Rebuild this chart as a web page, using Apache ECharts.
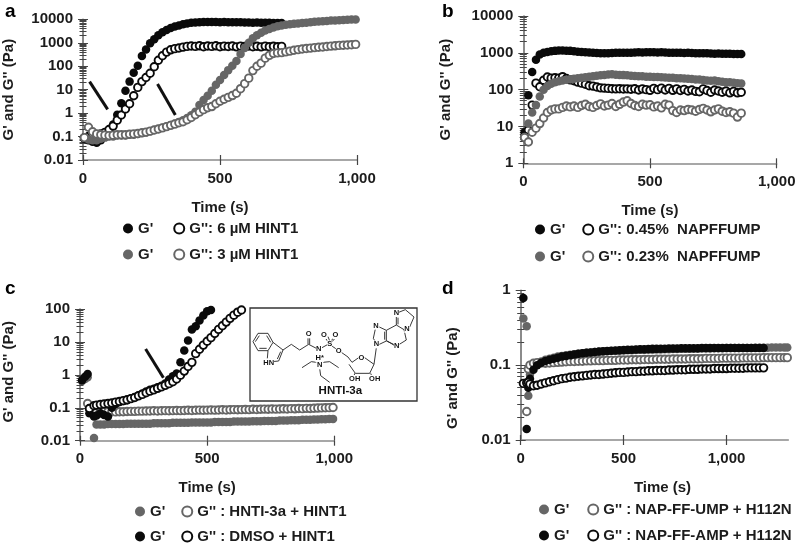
<!DOCTYPE html>
<html><head><meta charset="utf-8">
<script src="https://cdn.jsdelivr.net/npm/echarts@6/dist/echarts.min.js"></script>
<style>html,body{margin:0;padding:0;background:#fff}#c{width:800px;height:550px;filter:blur(.35px)}</style>
</head><body><div id="c"></div>
<script>
// ---------- panel a ----------
const timeA=[5,20,35,50,65,80,95,110,125,140,155,170,185,200,215,230,245,260,275,290,305,320,335,350,365,380,395,410,425,440,455,470,485,500,515,530,545,560,575,590,605,620,635,650,665,680,695,710,725,740,755,770,785,800,815,830,845,860,875,890,905,920,935,950,965,980,995];
const a6Gp=[.08,.07,.06,.055,.07,.11,.19,.33,.85,2.6,9,22,52,105,270,520,950,1420,2100,2800,3500,4250,4900,5500,6100,6700,7100,7300,7500,7600,7600,7700,7600,7500,7600,7500,7400,7500,7400,7300,7300,7200,7300,7200,7100,7100,7000,7000,6900];
const a6Gpp=[.09,.1,.11,.12,.13,.15,.2,.28,.5,.83,1.5,2.5,5.5,12.5,22,33,50,95,180,280,400,500,560,600,650,700,730,700,740,680,730,700,740,680,720,690,730,670,720,690,730,680,710,670,720,680,710,680,700];
const a3Gp=[.09,.075,.07,.07,.08,.09,.1,.1,.11,.11,.11,.12,.12,.13,.14,.15,.17,.19,.21,.24,.27,.31,.36,.42,.5,.62,.8,1.15,2.2,3.6,5.5,9,16,26,42,68,105,165,330,600,1000,1550,2100,2700,3300,3900,4500,5000,5400,5800,6100,6400,6700,6900,7200,7500,7800,8100,8300,8500,8800,8900,9100,9300,9500,9700,9900];
const a3Gpp=[.09,.25,.16,.13,.12,.115,.11,.115,.12,.12,.12,.125,.13,.135,.145,.155,.17,.19,.21,.235,.265,.3,.34,.39,.43,.52,.65,.85,1.1,1.4,1.7,1.9,2.5,3.2,3.9,4.7,5.6,7,11,18,31,65,100,135,220,290,350,370,380,410,440,480,510,540,570,590,620,640,660,690,720,740,770,780,800,820,850];
const ticksA=[0.01,0.1,1,10,100,1000,10000];
// ---------- panel b ----------
const timeB=[5,20,35,50,65,80,95,110,125,140,155,170,185,200,215,230,245,260,275,290,305,320,335,350,365,380,395,410,425,440,455,470,485,500,515,530,545,560,575,590,605,620,635,650,665,680,695,710,725,740,755,770,785,800,815,830,845,860];
const b45Gp=[7,70,300,650,900,1000,1060,1110,1130,1150,1160,1140,1130,1100,1070,1060,1040,1020,1000,990,970,970,980,990,1000,1000,1010,1000,1010,1020,1030,1020,1040,1040,1030,1020,1030,1020,1010,1010,1000,1000,990,1000,990,980,970,980,970,960,950,960,950,940,940,930,930,930];
const b45Gpp=[5,8,38,150,120,180,220,205,210,205,225,200,185,175,160,150,140,128,125,118,112,110,108,106,105,106,104,105,103,106,98,105,100,96,108,100,110,98,108,96,105,95,102,92,98,90,88,105,95,85,98,92,85,92,82,90,82,85];
const b23Gp=[5,12,24,38,65,100,125,145,160,170,178,186,192,198,205,212,218,225,230,238,245,250,258,262,255,250,248,245,238,235,232,230,225,225,222,220,218,215,212,210,205,205,200,198,195,190,188,182,178,175,178,170,165,160,158,155,150,148];
const b23Gpp=[5,3.8,7,9,12,17,24,28,30,30,33,36,34,36,33,37,40,35,33,37,41,36,38,42,35,40,46,50,42,37,35,40,38,39,34,36,32,40,38,27,24,28,27,29,28,26,29,31,28,25,28,30,26,24,25,23,18,23];
const ticksB=[1,10,100,1000,10000];
// ---------- panel c ----------
const timeC=[8,20,30,37,55,65,80,95,110,125,140,155,170,185,200,215,230,245,260,275,290,305,320,335,350,365,380,395,410,425,440,455,470,485,500,515,530,545,560,575,590,605,620,635,650,665,680,695,710,725,740,755,770,785,800,815,830,845,860,875,890,905,920,935,950,965,980,995];
const cHntiGp=[.65,.75,.85,null,.012,.031,.031,.031,.032,.032,.032,.032,.032,.033,.033,.033,.033,.033,.033,.033,.034,.034,.034,.034,.034,.035,.035,.035,.035,.035,.036,.036,.036,.036,.036,.036,.037,.037,.037,.037,.037,.038,.038,.038,.038,.038,.039,.039,.039,.04,.04,.04,.04,.041,.041,.041,.042,.042,.042,.043,.043,.043,.044,.044,.045,.045,.046,.046];
const cHntiGpp=[null,null,.135,.095,.085,.08,.078,.077,.076,.076,.075,.076,.076,.077,.078,.078,.079,.079,.08,.08,.081,.08,.081,.082,.081,.082,.083,.082,.083,.084,.083,.084,.085,.084,.085,.086,.085,.086,.087,.086,.087,.088,.087,.088,.089,.088,.09,.089,.09,.091,.09,.092,.091,.092,.093,.092,.094,.093,.095,.094,.096,.095,.097,.098,.099,.1,.101,.102];
const cDmsoGp=[.69,.87,1.06,.068,.054,.058,.068,.06,.054,.1,.13,.15,.16,.17,.19,.21,.24,.27,.31,.35,.38,.42,.47,.55,.72,.9,1.1,2.4,5.5,11,24,30,45,63,85,93];
const cDmsoGpp=[null,null,null,.095,.115,.12,.126,.13,.135,.14,.148,.155,.165,.175,.19,.205,.23,.255,.285,.32,.35,.39,.43,.48,.54,.62,.75,.98,1.3,1.8,2.4,4.4,6,8,10.5,13.5,18,24,31,40,52,65,80,93];
const ticksC=[0.01,0.1,1,10,100];
// ---------- panel d ----------
const timeD=[13,29,37,45,62,80,100,120,140,160,180,200,220,240,260,280,300,320,340,360,380,400,420,440,460,480,500,520,540,560,580,600,620,640,660,680,700,720,740,760,780,800,820,840,860,880,900,920,940,960,980,1000,1020,1040,1060,1080,1100,1120,1140,1160,1180,1200,1220,1240,1260,1280,1295];
const dUmpGp=[.42,.33,.039,.075,.095,.105,.112,.118,.122,.126,.13,.133,.136,.138,.14,.142,.144,.146,.148,.15,.151,.152,.153,.154,.155,.156,.157,.158,.158,.159,.16,.16,.161,.161,.162,.162,.163,.163,.164,.164,.165,.165,.165,.166,.166,.167,.167,.167,.168,.168,.168,.169,.169,.169,.17,.17,.17,.17,.171,.171,.171,.171,.172,.172,.172,.172,.172];
const dUmpGpp=[null,.024,.089,.1,.106,.108,.107,.106,.107,.108,.109,.11,.111,.112,.112,.113,.113,.114,.114,.115,.115,.115,.116,.116,.116,.117,.117,.117,.118,.118,.118,.119,.119,.119,.12,.12,.12,.12,.121,.121,.121,.121,.122,.122,.122,.122,.123,.123,.123,.123,.124,.124,.124,.124,.124,.125,.125,.125,.125,.125,.126,.126,.126,.126,.126,.126,.126];
const dAmpGp=[.79,.014,.05,.066,.087,.1,.108,.114,.118,.122,.126,.13,.133,.136,.139,.142,.144,.146,.148,.15,.152,.153,.154,.156,.157,.158,.159,.16,.161,.162,.163,.163,.164,.165,.165,.166,.166,.167,.167,.167,.168,.168,.168,.168,.168,.169,.169,.169,.169,.169,.169,.169,.17,.17,.17,.17,.17,.17,.17,.17,.17];
const dAmpGpp=[.057,.058,.059,.056,.053,.054,.056,.058,.06,.062,.064,.066,.067,.069,.07,.071,.072,.073,.074,.075,.075,.076,.077,.078,.079,.08,.08,.081,.082,.082,.083,.083,.084,.084,.085,.085,.085,.086,.086,.087,.087,.087,.088,.088,.088,.089,.089,.089,.09,.09,.09,.09,.091,.091,.091,.091,.092,.092,.092,.092,.092];
const ticksD=[0.01,0.1,1];

const xTicks=[0,500,1000];
const xTicksD=[0,500,1000];
const arrowsA=[[[24,22],[90,1.45]],[[272,17.4],[337,0.83]]];
const arrowsC=[[[258,6.1],[328,0.82]]];
const yTitle="G' and G'' (Pa)", xTitle="Time (s)";

const BLACK='#0a0a0a', GRAY='#666666', TXT='#1c1c1c';
const FONT='"Liberation Sans",Arial,sans-serif';

const panels=[
 {letter:'a',lx:5,ly:2,grid:{left:82.7,top:19.3,width:274.3,height:140.7},ymin:.01,ymax:10000,ticks:ticksA,xmax:1000,xt:xTicks,
  nameGapY:67,legendLeft:123,rows:[230,256],gap:20,
  xNameOffset:0,yNameOffset:0,
  arrows:arrowsA,
  s:[[`G' 6`,a6Gp,timeA,BLACK,1],[`G'': 6 µM HINT1`,a6Gpp,timeA,BLACK,0],[`G' 3`,a3Gp,timeA,GRAY,1],[`G'': 3 µM HINT1`,a3Gpp,timeA,GRAY,0]]},
 {letter:'b',lx:442,ly:2,grid:{left:523.3,top:16,width:253.4,height:147.3},ymin:1,ymax:10000,ticks:ticksB,xmax:1000,xt:xTicks,
  nameGapY:70,legendLeft:535,rows:[231,258],gap:17,
  xNameOffset:0,yNameOffset:0,
  s:[[`G' .45`,b45Gp,timeB,BLACK,1],[`G'': 0.45%  NAPFFUMP`,b45Gpp,timeB,BLACK,0],[`G' .23`,b23Gp,timeB,GRAY,1],[`G'': 0.23%  NAPFFUMP`,b23Gpp,timeB,GRAY,0]]},
 {letter:'c',lx:5,ly:279,grid:{left:80,top:309,width:254.3,height:131.7},ymin:.01,ymax:100,ticks:ticksC,xmax:1000,xt:xTicks,
  nameGapY:64,legendLeft:135,rows:[513,538],gap:16,
  xNameOffset:0,yNameOffset:-3,
  arrows:arrowsC,
  s:[[`G' HNTI`,cHntiGp,timeC,GRAY,1],[`G'' : HNTI-3a + HINT1`,cHntiGpp,timeC,GRAY,0],[`G' DMSO`,cDmsoGp,timeC,BLACK,1],[`G'' : DMSO + HINT1`,cDmsoGpp,timeC,BLACK,0]]},
 {letter:'d',lx:442,ly:279,grid:{left:520.7,top:290.3,width:267.6,height:149.7},ymin:.01,ymax:1,ticks:ticksD,xmax:1300,xt:xTicksD,
  nameGapY:60,legendLeft:539,rows:[511,537],gap:18,
  xNameOffset:8,yNameOffset:13,
  s:[[`G' UMP`,dUmpGp,timeD,GRAY,1],[`G'' : NAP-FF-UMP + H112N`,dUmpGpp,timeD,GRAY,0],[`G' AMP`,dAmpGp,timeD,BLACK,1],[`G'' : NAP-FF-AMP + H112N`,dAmpGpp,timeD,BLACK,0]]}
];

function minorValues(ticks){
  const out=[];
  for(let i=0;i<ticks.length-1;i++) for(let m=2;m<=9;m++) out.push(+(ticks[i]*m).toPrecision(3));
  return out;
}
const lineC='#6e6e6e', tickC='#444444';
const text15={fontFamily:FONT,fontWeight:'bold',fontSize:15,color:TXT};

const grid=[],xAxis=[],yAxis=[],series=[],legend=[],title=[];
panels.forEach((p,pi)=>{
  grid.push({...p.grid,containLabel:false});
  const firstX=xAxis.length,firstY=yAxis.length;
  // x axis: outward ticks with labels, then an inward-tick overlay so ticks cross the line
  [false,true].forEach(inside=>{
    xAxis.push({type:'value',gridIndex:pi,min:0,max:p.xmax,position:'bottom',interval:500,splitLine:{show:false},
      axisLine:{show:!inside,onZero:false,lineStyle:{color:'#8a8a8a',width:1.6}},
      axisTick:{show:true,inside,length:5,lineStyle:{color:tickC,width:1.2},customValues:p.xt},
      axisLabel:{show:!inside,margin:11,customValues:p.xt,...text15},
      name:inside?'':xTitle,nameLocation:'middle',nameGap:40,
      nameTextStyle:{...text15,padding:[0,0,0,p.xNameOffset*2]}});
  });
  // y axis: majors crossing the line, minors crossing the line
  [[false,p.ticks,5],[true,p.ticks,5],[false,minorValues(p.ticks),3.5],[true,minorValues(p.ticks),3.5]].forEach(([inside,vals,len],k)=>{
    yAxis.push({type:'log',logBase:10,gridIndex:pi,min:p.ymin,max:p.ymax,position:'left',splitLine:{show:false},
      axisLine:{show:k===0,onZero:false,lineStyle:{color:lineC,width:1.6}},
      axisTick:{show:true,inside,length:len,lineStyle:{color:tickC,width:1},customValues:vals},
      axisLabel:{show:k===0,margin:10,customValues:p.ticks,formatter:v=>String(+(+v).toPrecision(3)),...text15},
      name:k===0?yTitle:'',nameLocation:'middle',nameGap:p.nameGapY,nameRotate:90,
      nameTextStyle:{...text15,padding:[0,Math.max(p.yNameOffset*2,0),0,Math.max(-p.yNameOffset*2,0)]}});
  });
  p.s.forEach(([name,vals,times,col,filled],si)=>{
    const data=[];
    vals.forEach((v,i)=>{ if(v!==null) data.push([times[i],v]); });
    const ser={type:'scatter',name,xAxisIndex:firstX,yAxisIndex:firstY,data,symbol:'circle',
      symbolSize:filled?8.5:7.5,z:2+si,animation:false,silent:true,
      itemStyle:filled?{color:col,opacity:1}:{color:'#ffffff',borderColor:col,borderWidth:1.9,opacity:1}};
    if(si===3&&p.arrows){
      ser.markLine={silent:true,animation:false,symbol:['none','arrow'],symbolSize:[0,13],label:{show:false},
        lineStyle:{color:'#111',width:3,type:'solid'},
        data:p.arrows.map(a=>[{coord:a[0]},{coord:a[1]}])};
    }
    series.push(ser);
  });
  [[0,1],[2,3]].forEach(([i,j],r)=>{
    legend.push({show:true,left:p.legendLeft,top:p.rows[r]-9,orient:'horizontal',itemGap:p.gap,itemWidth:10,itemHeight:10,itemTextGap:4,
      padding:0,selectedMode:false,icon:'circle',
      data:[p.s[i][0],p.s[j][0]],
      formatter:n=>n.startsWith("G' ")?"G'":n,
      textStyle:{fontFamily:FONT,fontWeight:'bold',fontSize:15,color:TXT,padding:0}});
  });
  title.push({text:p.letter,left:p.lx,top:p.ly,padding:0,textStyle:{fontFamily:FONT,fontWeight:'bold',fontSize:19,color:'#000'}});
});

// inset box with the HNTI-3a structure (drawn decoration, in px inside the box)
const ox=248, oy=305, sc=1/3;
const P=(x,y)=>[ox+x*sc,oy+y*sc];
const bonds=[
 [[15,110],[30,85],[60,85],[75,112],[60,137],[30,137],[15,110]],
 [[22,110],[34,92]],[[56,92],[68,112]],[[34,130],[56,130]],
 [[75,112],[105,135],[92,168],[72,170]],[[60,137],[58,160]],[[98,140],[88,162]],
 [[105,135],[130,118],[155,135],[182,118],[205,130]],[[180,118],[180,98]],[[185,118],[185,98]],
 [[222,128],[240,118]],[[240,110],[231,98]],[[246,110],[240,95]],[[248,110],[258,96]],[[252,110],[263,98]],
 [[250,122],[265,132]],[[280,142],[300,156],[312,172]],
 [[312,172],[332,158]],[[350,158],[378,178],[365,205],[322,205],[303,178]],
 [[320,205],[318,215]],[[368,205],[372,215]],[[378,178],[385,128]],
 [[385,115],[376,100],[382,72]],[[394,66],[415,76],[415,108],[394,118]],[[410,80],[410,104]],
 [[415,76],[445,60],[468,74],[475,105],[454,118]],[[437,118],[415,108]],[[418,108],[440,122]],
 [[445,60],[445,36]],[[452,22],[472,14],[498,36],[485,66]],[[450,58],[450,38]],
 [[205,172],[190,170],[162,188]],[[225,172],[245,170],[272,188]],[[215,190],[218,212],[245,232]],
 [[215,172],[215,170]]
];
const atoms=[
 ['HN',62,175],['O',182,88],['N',212,132],['S',245,118],['O',228,90],['O',262,90],['O',272,138],['O',340,158],
 ['N',385,118],['N',384,62],['N',446,122],['N',477,72],['N',445,24],['H*',215,160],['N',215,181],['OH',320,222],['OH',380,222]
];
const graphic=[
 {type:'rect',shape:{x:250,y:308,width:167,height:93},style:{fill:'#fff',stroke:'#333',lineWidth:1.3},z:50},
 ...bonds.map(b=>({type:'polyline',shape:{points:b.map(q=>P(q[0],q[1]))},style:{stroke:'#222',lineWidth:.9,fill:null},z:51})),
 ...atoms.map(a=>{const q=P(a[1],a[2]);return {type:'text',x:q[0],y:q[1],z:52,style:{text:a[0],fontFamily:FONT,fontSize:7.5,fontWeight:'bold',fill:'#111',backgroundColor:'#fff',align:'center',verticalAlign:'middle'}};}),
 {type:'text',x:P(277,258)[0],y:P(277,258)[1],z:52,style:{text:'HNTI-3a',fontFamily:FONT,fontSize:11.5,fontWeight:'bold',fill:'#111',align:'center',verticalAlign:'middle'}}
];

const chart=echarts.init(document.getElementById('c'),null,{renderer:'canvas'});
chart.setOption({animation:false,backgroundColor:'#fff',title,grid,xAxis,yAxis,series,legend,graphic,tooltip:{show:false}});
</script></body></html>
